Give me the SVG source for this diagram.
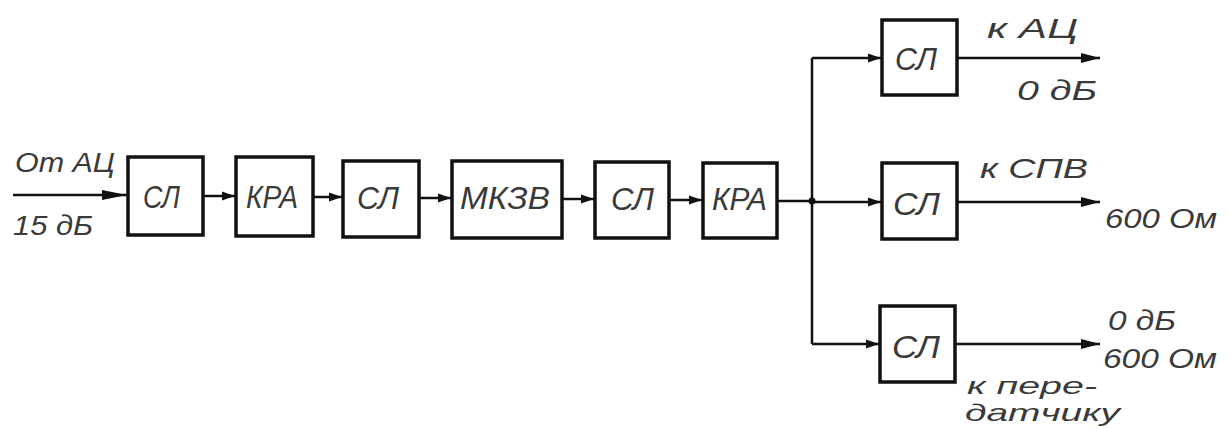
<svg xmlns="http://www.w3.org/2000/svg" width="1229" height="428" viewBox="0 0 1229 428">
<style>
.box{fill:#fff;stroke:#111;stroke-width:3.5}
.ln{fill:none;stroke:#111;stroke-width:2.5}
.lb{font-family:"Liberation Sans","DejaVu Sans",sans-serif;font-style:italic;font-size:31px;fill:#3a3a3a}
.tx{font-family:"Liberation Sans","DejaVu Sans",sans-serif;font-style:italic;font-size:28px;fill:#3a3a3a}
.sm{font-size:24px}
</style>
<defs>
<marker id="a" markerUnits="userSpaceOnUse" markerWidth="14" markerHeight="10" refX="13" refY="5" orient="auto"><path d="M0,0.5 L13,5 L0,9.5 z" fill="#111"/></marker>
<marker id="big" markerUnits="userSpaceOnUse" markerWidth="26" markerHeight="12" refX="25" refY="6" orient="auto"><path d="M0,1 L25,6 L0,11 z" fill="#111"/></marker>
<marker id="out" markerUnits="userSpaceOnUse" markerWidth="20" markerHeight="12" refX="19" refY="6" orient="auto"><path d="M0,1 L19,6 L0,11 z" fill="#111"/></marker>
</defs>
<g id="connectors">
<line class="ln" x1="13" y1="195" x2="127" y2="195" stroke-width="3" marker-end="url(#big)"/>
<line class="ln" x1="203" y1="196" x2="235" y2="196" marker-end="url(#a)"/>
<line class="ln" x1="313" y1="197" x2="342" y2="197" marker-end="url(#a)"/>
<line class="ln" x1="419" y1="198" x2="451" y2="198" marker-end="url(#a)"/>
<line class="ln" x1="562" y1="199" x2="594" y2="199" marker-end="url(#a)"/>
<line class="ln" x1="669" y1="200" x2="702" y2="200" marker-end="url(#a)"/>
<line class="ln" x1="777" y1="201" x2="812" y2="201"/>
<line class="ln" x1="812" y1="58" x2="812" y2="344"/>
<circle cx="812" cy="201" r="3.5" fill="#111"/>
<line class="ln" x1="812" y1="58" x2="881" y2="58" marker-end="url(#a)"/>
<line class="ln" x1="812" y1="202" x2="881" y2="202" marker-end="url(#a)"/>
<line class="ln" x1="812" y1="344" x2="879" y2="344" marker-end="url(#a)"/>
<line class="ln" x1="957" y1="58" x2="1100" y2="58" marker-end="url(#out)"/>
<line class="ln" x1="957" y1="202" x2="1100" y2="202" marker-end="url(#out)"/>
<line class="ln" x1="955" y1="344" x2="1100" y2="344" marker-end="url(#out)"/>
</g>
<g id="in-label">
<text class="tx" x="15" y="172" textLength="100" lengthAdjust="spacingAndGlyphs">От АЦ</text>
<text class="tx" x="13" y="235" textLength="80" lengthAdjust="spacingAndGlyphs">15 дБ</text>
</g>
<g id="n1"><rect class="box" x="128" y="157" width="75" height="78"/><text class="lb" x="143" y="208" textLength="37" lengthAdjust="spacingAndGlyphs">СЛ</text></g>
<g id="n2"><rect class="box" x="236" y="157" width="77" height="79"/><text class="lb" x="246" y="208" textLength="52" lengthAdjust="spacingAndGlyphs">КРА</text></g>
<g id="n3"><rect class="box" x="343" y="161" width="76" height="76"/><text class="lb" x="357" y="209" textLength="42" lengthAdjust="spacingAndGlyphs">СЛ</text></g>
<g id="n4"><rect class="box" x="452" y="161" width="110" height="77"/><text class="lb" x="460" y="209" textLength="90" lengthAdjust="spacingAndGlyphs">МКЗВ</text></g>
<g id="n5"><rect class="box" x="595" y="162" width="74" height="76"/><text class="lb" x="611" y="210" textLength="43" lengthAdjust="spacingAndGlyphs">СЛ</text></g>
<g id="n6"><rect class="box" x="703" y="163" width="74" height="75"/><text class="lb" x="712" y="210" textLength="55" lengthAdjust="spacingAndGlyphs">КРА</text></g>
<g id="n7"><rect class="box" x="882" y="20" width="75" height="75"/><text class="lb" x="895" y="70" textLength="42" lengthAdjust="spacingAndGlyphs">СЛ</text></g>
<g id="n8"><rect class="box" x="882" y="163" width="75" height="76"/><text class="lb" x="893" y="215" textLength="47" lengthAdjust="spacingAndGlyphs">СЛ</text></g>
<g id="n9"><rect class="box" x="880" y="306" width="75" height="76"/><text class="lb" x="892" y="358" textLength="48" lengthAdjust="spacingAndGlyphs">СЛ</text></g>
<g id="out-labels">
<text class="tx" x="987" y="38" textLength="91" lengthAdjust="spacingAndGlyphs">к АЦ</text>
<text class="tx" x="1017" y="100" textLength="80" lengthAdjust="spacingAndGlyphs">0 дБ</text>
<text class="tx" x="980" y="178" textLength="108" lengthAdjust="spacingAndGlyphs">к СПВ</text>
<text class="tx" x="1105" y="228" textLength="112" lengthAdjust="spacingAndGlyphs">600 Ом</text>
<text class="tx" x="1108" y="330" textLength="68" lengthAdjust="spacingAndGlyphs">0 дБ</text>
<text class="tx" x="1103" y="368" textLength="114" lengthAdjust="spacingAndGlyphs">600 Ом</text>
<text class="tx sm" x="967" y="394" textLength="130" lengthAdjust="spacingAndGlyphs">к пере-</text>
<text class="tx sm" x="965" y="421" textLength="155" lengthAdjust="spacingAndGlyphs">датчику</text>
</g>
</svg>
